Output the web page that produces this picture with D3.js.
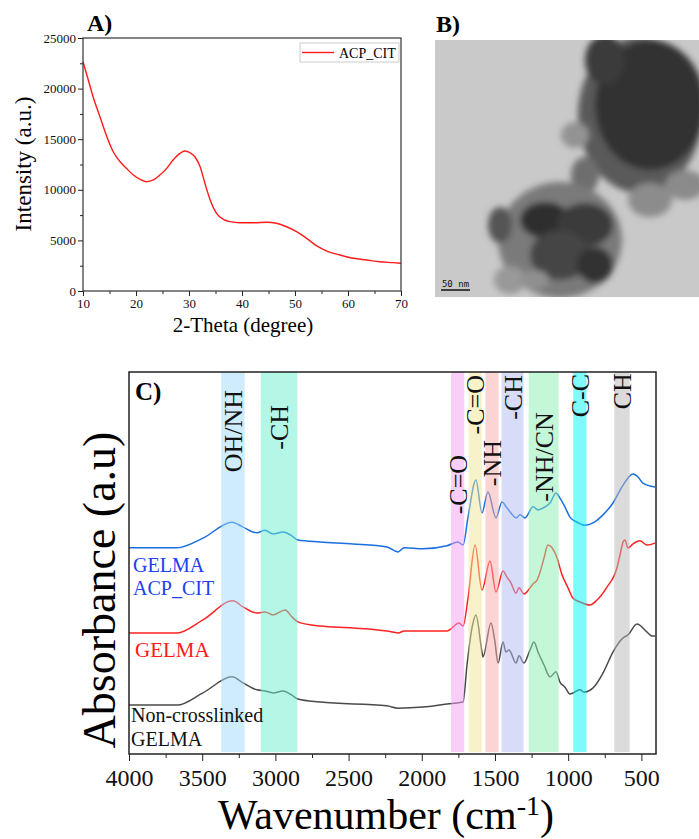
<!DOCTYPE html>
<html>
<head>
<meta charset="utf-8">
<script src="https://cdn.jsdelivr.net/npm/d3@7"></script>
<style>
  body { margin: 0; background: #fff; }
  svg { display: block; }
</style>
</head>
<body>
<div class="plots"></div>
<script>
// ---- panel A : XRD of ACP_CIT ----
var xrdTheta = [10,11,11.9,13.2,14.5,15.7,17,18.2,19.5,20.8,22,23.3,24.5,25.8,27,28.3,29.2,30.2,31.1,32.1,
                33,34,35.2,36.5,37.7,39.6,42.1,44.7,46.5,48.4,50.3,52.2,54.1,56,58.5,61,63.5,66,68.5,70];
var xrdIntensity = [22650,20850,19200,17220,15240,13760,12770,12120,11460,11030,10800,10970,11460,12120,12940,13600,13830,13660,13270,12280,
                    10640,8990,7670,7080,6850,6750,6750,6790,6690,6350,5860,5200,4450,3950,3560,3230,3060,2890,2800,2740];
var xrdTicksX = [10,20,30,40,50,60,70];
var xrdTicksY = [0,5000,10000,15000,20000,25000];

// ---- panel C : FTIR ----
var ftirTicks = [4000,3500,3000,2500,2000,1500,1000,500];

var acpWn  = [4000,3672,3495,3296,3221,3126,3071,3016,2948,2887,2846,2695,2470,2238,2162,2120,1992,1828,1753,1718,
              1684,1630,1589,1548,1493,1452,1418,1391,1356,1329,1295,1240,1206,1172,1124,1083,1056,1022,988,940,
              885,830,762,694,625,557,523,489,407];
var acpAbs = [5.40,5.40,5.65,6.07,5.94,5.79,5.86,5.76,5.81,5.71,5.60,5.55,5.50,5.42,5.29,5.40,5.37,5.45,5.55,5.47,
              6.20,7.17,6.31,6.86,6.18,6.60,6.44,6.31,6.18,6.26,6.18,6.47,6.39,6.44,6.57,6.83,6.70,6.47,6.20,6.07,
              5.99,6.05,6.26,6.57,7.04,7.33,7.25,7.09,6.99];

var gelWn  = [4000,3672,3495,3290,3221,3126,3071,3016,2934,2887,2846,2695,2470,2238,2162,2120,1992,1828,1746,1718,
              1684,1636,1589,1534,1493,1445,1418,1391,1356,1336,1302,1240,1213,1192,1165,1138,1110,1076,1042,1001,
              967,919,851,803,735,667,646,625,612,591,557,509,461,407];
var gelAbs = [3.17,3.17,3.51,4.01,3.85,3.69,3.72,3.64,3.77,3.59,3.46,3.35,3.30,3.22,3.17,3.22,3.22,3.22,3.43,3.35,
              4.08,5.47,4.29,5.05,4.24,4.79,4.63,4.48,4.21,4.35,4.19,4.45,4.55,4.76,5.13,5.47,5.40,5.13,4.69,4.35,
              4.08,3.98,3.90,4.03,4.37,4.87,5.21,5.55,5.60,5.39,5.50,5.58,5.47,5.52];

var ncWn  = [4000,3672,3495,3296,3221,3126,3071,3016,2948,2887,2846,2695,2238,2162,1992,1828,1718,1691,1657,1630,
             1589,1582,1527,1500,1479,1445,1425,1404,1356,1336,1302,1261,1233,1206,1165,1124,1083,1056,1022,988,
             919,892,830,762,694,625,591,530,461,427,407];
var ncAbs = [1.28,1.28,1.60,2.02,1.86,1.68,1.65,1.60,1.65,1.54,1.44,1.36,1.26,1.20,1.23,1.31,1.36,2.33,3.30,3.64,
             2.67,2.54,3.43,2.93,2.38,2.93,2.67,2.72,2.38,2.57,2.38,2.72,2.93,2.67,2.33,2.02,2.15,1.88,1.75,1.57,
             1.68,1.62,1.73,2.12,2.67,3.04,3.12,3.40,3.19,3.09,3.09];

var bandNames  = ["OH/NH","-CH","-C=O","-C=O","-NH","-CH","-NH/CN","C-C","CH"];
var bandFrom   = [3370,3100,1800,1680,1565,1455,1270,965,685];
var bandTo     = [3210,2850,1710,1590,1475,1305,1065,875,580];
var bandLabelY = [9.53,9.14,7.83,9.92,8.22,9.92,8.95,9.95,9.97];
var bandColors = ["#9fd9f9","#6cf0d0","#f49ff5","#efe596","#f9aaaa","#b0bcf4","#8aefb0","#00f5f5","#b8b8b8"];

// ---- panel B : TEM micrograph, drawn as soft blobs in its own 264x257 frame ----
var temX  = [205,215,170,140,215,250,150,125, 65,110,150,125,160, 75,100];
var temY  = [ 75, 65, 20, 95,160,145,135,200,185,180,185,215,225,240,240];
var temRx = [ 62, 55, 20, 14, 22, 20, 14, 62, 12, 25, 28, 30, 18, 16, 14];
var temRy = [ 78, 65, 25, 13, 17, 15, 18, 58, 18, 18, 22, 25, 18, 14, 10];
var temGray = [90,48,58,147,140,138,110,122,85,46,58,68,51,153,143];

var serif = "'Liberation Serif','Times New Roman',Times,serif";

var svg = d3.select(".plots").append("svg")
    .attr("width", 699)
    .attr("height", 839);

function styleAxis(g, size) {
  g.select(".domain").remove();
  g.selectAll("line").attr("stroke", "#222").attr("stroke-width", 1);
  g.selectAll("text").attr("font-family", serif).attr("font-size", size).attr("fill", "#111");
}

// ================= A =================
var xA = d3.scaleLinear().domain([10,70]).range([83,401]);
var yA = d3.scaleLinear().domain([0,25000]).range([291,38]);

var gA = svg.append("g");
gA.append("g")
    .attr("transform", "translate(0,291)")
    .call(d3.axisBottom(xA).tickValues(d3.range(15,70,10)).tickSize(3).tickFormat(""))
    .call(styleAxis, 13);
gA.append("g")
    .attr("transform", "translate(0,291)")
    .call(d3.axisBottom(xA).tickValues(xrdTicksX).tickSize(5).tickPadding(3))
    .call(styleAxis, 13);
gA.append("g")
    .attr("transform", "translate(83,0)")
    .call(d3.axisLeft(yA).tickValues(d3.range(2500,25000,5000)).tickSize(3).tickFormat(""))
    .call(styleAxis, 13);
gA.append("g")
    .attr("transform", "translate(83,0)")
    .call(d3.axisLeft(yA).tickValues(xrdTicksY).tickSize(5).tickPadding(2).tickFormat(d3.format("d")))
    .call(styleAxis, 13);

var lineA = d3.line()
    .x(function(d, i) { return xA(xrdTheta[i]); })
    .y(function(d) { return yA(d); })
    .curve(d3.curveMonotoneX);

gA.append("path")
    .datum(xrdIntensity)
    .attr("fill", "none")
    .attr("stroke", "#ff1a1a")
    .attr("stroke-width", 1.4)
    .attr("d", lineA);

gA.append("rect")
    .attr("x", 83).attr("y", 38)
    .attr("width", 318).attr("height", 253)
    .attr("fill", "none").attr("stroke", "#333").attr("stroke-width", 1.2);

// legend
gA.append("rect")
    .attr("x", 300).attr("y", 43).attr("width", 99).attr("height", 19)
    .attr("fill", "#fff").attr("stroke", "#ccc").attr("stroke-width", 1);
gA.append("line")
    .attr("x1", 302).attr("x2", 334).attr("y1", 52.5).attr("y2", 52.5)
    .attr("stroke", "#ff1a1a").attr("stroke-width", 1.4);
gA.append("text")
    .attr("x", 339).attr("y", 57.5)
    .attr("font-family", serif).attr("font-size", 14)
    .text("ACP_CIT");

gA.append("text")
    .attr("x", 87).attr("y", 31)
    .attr("font-family", serif).attr("font-size", 24).attr("font-weight", "bold")
    .text("A)");
gA.append("text")
    .attr("x", 243).attr("y", 332)
    .attr("text-anchor", "middle")
    .attr("font-family", serif).attr("font-size", 21)
    .text("2-Theta (degree)");
gA.append("text")
    .attr("transform", "translate(31,164) rotate(-90)")
    .attr("text-anchor", "middle")
    .attr("font-family", serif).attr("font-size", 23)
    .text("Intensity (a.u.)");

// ================= B =================
var xB = d3.scaleLinear().domain([0,264]).range([435,699]);
var yB = d3.scaleLinear().domain([0,257]).range([40,297]);

var defs = svg.append("defs");
defs.append("clipPath").attr("id", "temclip")
  .append("rect").attr("x", 435).attr("y", 40).attr("width", 264).attr("height", 257);
defs.append("filter").attr("id", "soft")
  .attr("x", "-30%").attr("y", "-30%").attr("width", "160%").attr("height", "160%")
  .append("feGaussianBlur").attr("stdDeviation", 3);

var gB = svg.append("g").attr("clip-path", "url(#temclip)");
gB.append("rect")
    .attr("x", 435).attr("y", 40).attr("width", 264).attr("height", 257)
    .attr("fill", "#c9c9c9");
gB.append("g").attr("filter", "url(#soft)")
  .selectAll("ellipse")
  .data(temX)
  .join("ellipse")
    .attr("cx", function(d) { return xB(d); })
    .attr("cy", function(d, i) { return yB(temY[i]); })
    .attr("rx", function(d, i) { return xB(temRx[i]) - xB(0); })
    .attr("ry", function(d, i) { return yB(temRy[i]) - yB(0); })
    .attr("fill", function(d, i) { var g = temGray[i]; return d3.rgb(g, g, g); });

gB.append("line")
    .attr("x1", 441).attr("x2", 470).attr("y1", 290).attr("y2", 290)
    .attr("stroke", "#111").attr("stroke-width", 1.5);
gB.append("text")
    .attr("x", 455.5).attr("y", 287)
    .attr("text-anchor", "middle")
    .attr("font-family", "'DejaVu Sans Mono',monospace").attr("font-size", 9)
    .attr("fill", "#111")
    .text("50 nm");

svg.append("text")
    .attr("x", 436).attr("y", 32)
    .attr("font-family", serif).attr("font-size", 24).attr("font-weight", "bold")
    .text("B)");

// ================= C =================
var xC = d3.scaleLinear().domain([4000,400]).range([129,656]);
var yC = d3.scaleLinear().domain([0,10]).range([754,372]);

var gC = svg.append("g");

gC.append("g")
    .attr("transform", "translate(0,754)")
    .call(d3.axisBottom(xC).tickValues(d3.range(3750,400,-500)).tickSize(4).tickFormat(""))
    .call(styleAxis, 24);
gC.append("g")
    .attr("transform", "translate(0,754)")
    .call(d3.axisBottom(xC).tickValues(ftirTicks).tickSize(7).tickPadding(8).tickFormat(d3.format("d")))
    .call(styleAxis, 24);

var lineC = function(wn) {
  return d3.line()
      .x(function(d, i) { return xC(wn[i]); })
      .y(function(d) { return yC(d); })
      .curve(d3.curveMonotoneX);
};

var series = [
  {wn: ncWn,  abs: ncAbs,  color: "#4a4a4a"},
  {wn: gelWn, abs: gelAbs, color: "#ff2222"},
  {wn: acpWn, abs: acpAbs, color: "#1a6fe0"}
];
series.forEach(function(s) {
  gC.append("path")
      .datum(s.abs)
      .attr("fill", "none")
      .attr("stroke", s.color)
      .attr("stroke-width", 1.5)
      .attr("stroke-linejoin", "round")
      .attr("d", lineC(s.wn));
});

// shaded bands on top of the spectra
gC.selectAll("rect.band")
  .data(bandNames)
  .join("rect")
    .attr("class", "band")
    .attr("x", function(d, i) { return xC(bandFrom[i]); })
    .attr("width", function(d, i) { return xC(bandTo[i]) - xC(bandFrom[i]); })
    .attr("y", yC(10))
    .attr("height", yC(0.05) - yC(10))
    .attr("fill", function(d, i) { return bandColors[i]; })
    .attr("opacity", 0.5);

gC.selectAll("text.band")
  .data(bandNames)
  .join("text")
    .attr("class", "band")
    .attr("transform", function(d, i) {
      var cx = (xC(bandFrom[i]) + xC(bandTo[i])) / 2 + 9;
      return "translate(" + cx + "," + yC(bandLabelY[i]) + ") rotate(-90)";
    })
    .attr("text-anchor", "end")
    .attr("font-family", serif).attr("font-size", 26)
    .attr("fill", "#111")
    .text(function(d) { return d; });

gC.append("rect")
    .attr("x", 129).attr("y", 372)
    .attr("width", 527).attr("height", 382)
    .attr("fill", "none").attr("stroke", "#222").attr("stroke-width", 1.5);

gC.append("text")
    .attr("x", 135).attr("y", 400)
    .attr("font-family", serif).attr("font-size", 25).attr("font-weight", "bold")
    .text("C)");

// series labels
var lab = gC.append("g").attr("font-family", serif).attr("font-size", 20);
lab.append("text").attr("x", 133).attr("y", 572).attr("fill", "#2040f0").text("GELMA");
lab.append("text").attr("x", 133).attr("y", 595).attr("fill", "#2040f0").text("ACP_CIT");
lab.append("text").attr("x", 135).attr("y", 657).attr("fill", "#ff1a1a").attr("font-size", 21).text("GELMA");
lab.append("text").attr("x", 131).attr("y", 722).attr("fill", "#111").text("Non-crosslinked");
lab.append("text").attr("x", 131).attr("y", 746).attr("fill", "#111").text("GELMA");

// axis titles
var xt = gC.append("text")
    .attr("x", 386).attr("y", 829)
    .attr("text-anchor", "middle")
    .attr("font-family", serif).attr("font-size", 42);
xt.append("tspan").text("Wavenumber (cm");
xt.append("tspan").attr("dy", -14).attr("font-size", 28).text("-1");
xt.append("tspan").attr("dy", 14).text(")");

gC.append("text")
    .attr("transform", "translate(115,590) rotate(-90)")
    .attr("text-anchor", "middle")
    .attr("font-family", serif).attr("font-size", 46)
    .text("Absorbance (a.u)");
</script>
</body>
</html>
